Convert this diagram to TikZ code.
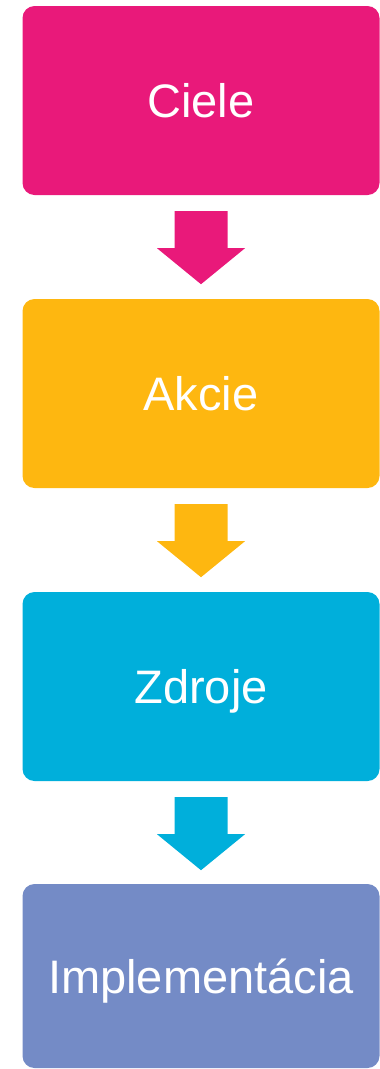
\documentclass[tikz,border=0pt]{standalone}
\usepackage{fontspec}
\setmainfont{Liberation Sans}
\usetikzlibrary{calc}
\definecolor{cpink}{RGB}{233,25,122}
\definecolor{corange}{RGB}{254,183,16}
\definecolor{ccyan}{RGB}{0,175,219}
\definecolor{cviolet}{RGB}{116,139,198}
\tikzset{
  stage/.style={rectangle, rounded corners=12pt, fill=#1, draw=none,
    minimum width=357pt, minimum height=189pt, inner sep=0pt,
    text=white, font=\fontsize{47}{56}\selectfont,
    text height=34pt, text depth=0pt},
}
% block arrow hanging below a stage box
\newcommand\stagearrow[2]{%
  \fill[#2] ($(#1.south)+(-26.5,-16)$) -- ++(53,0) -- ++(0,-37) -- ++(17.5,0)
    -- ($(#1.south)+(0,-89)$) -- ($(#1.south)+(-44,-53)$) -- ++(17.5,0) -- cycle;}
\begin{document}
\begin{tikzpicture}[x=1pt,y=1pt]
\useasboundingbox (0,0) rectangle (380,-1069);
\node[stage=cpink]   (ciele) at (201,-100.5) {Ciele};
\node[stage=corange] (akcie) at (201,-393.5) {Akcie};
\node[stage=ccyan]   (zdroje) at (201,-686.5) {Zdroje};
\node[stage=cviolet, minimum height=184pt] (impl) at (201,-976) {Implementácia};
\stagearrow{ciele}{cpink}
\stagearrow{akcie}{corange}
\stagearrow{zdroje}{ccyan}
\end{tikzpicture}
\end{document}
